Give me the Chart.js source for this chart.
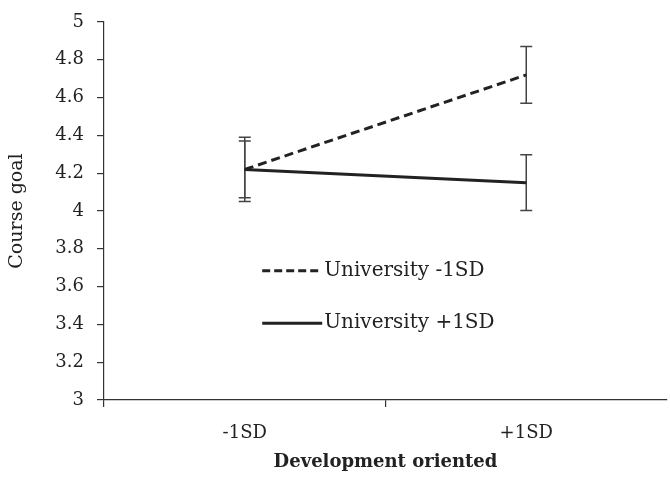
<!DOCTYPE html>
<html>
<head>
<meta charset="utf-8">
<script src="https://cdn.jsdelivr.net/npm/chart.js@4/dist/chart.umd.min.js"></script>
<style>
  html, body { margin: 0; padding: 0; background: #fff; }
  #wrap { width: 670px; height: 477px; position: relative; }
</style>
</head>
<body>
<div id="wrap"><canvas id="c" width="670" height="477"></canvas></div>
<script>
const categories = ['-1SD', '+1SD'];
const seriesNames = ['University -1SD', 'University +1SD'];
const univMinusMean = [4.22, 4.72];
const univMinusErr = [0.17, 0.15];
const univPlusMean = [4.22, 4.15];
const univPlusErr = [0.15, 0.147];
const yMin = 3, yMax = 5, yStep = 0.2;
const xTitle = 'Development oriented';
const yTitle = 'Course goal';

const FONT = "'DejaVu Serif', serif";
const INK = '#222';

const errorBars = {
  id: 'errorBars',
  beforeDatasetsDraw(chart) {
    const ctx = chart.ctx;
    const xs = chart.scales.x, ys = chart.scales.y;
    ctx.save();
    ctx.strokeStyle = '#444';
    ctx.lineWidth = 1.5;
    chart.data.datasets.forEach(ds => {
      ds.data.forEach((v, i) => {
        const e = ds.err[i];
        const x = xs.getPixelForValue(i);
        const t = ys.getPixelForValue(v + e), b = ys.getPixelForValue(v - e);
        const cap = 6;
        ctx.beginPath();
        ctx.moveTo(x, t); ctx.lineTo(x, b);
        ctx.moveTo(x - cap, t); ctx.lineTo(x + cap, t);
        ctx.moveTo(x - cap, b); ctx.lineTo(x + cap, b);
        ctx.stroke();
      });
    });
    ctx.restore();
  }
};

const inLegend = {
  id: 'inLegend',
  afterDraw(chart) {
    const ctx = chart.ctx, a = chart.chartArea;
    const w = a.right - a.left, h = a.bottom - a.top;
    const x0 = a.left + 0.281 * w;
    const ys = [a.top + 0.658 * h, a.top + 0.797 * h];
    ctx.save();
    ctx.font = '20px ' + FONT;
    ctx.fillStyle = INK;
    ctx.textBaseline = 'middle';
    chart.data.datasets.forEach((ds, i) => {
      ctx.strokeStyle = INK;
      ctx.lineWidth = 3;
      ctx.setLineDash(i === 0 ? [8, 4] : []);
      ctx.beginPath();
      ctx.moveTo(x0, ys[i]); ctx.lineTo(x0 + 60, ys[i]);
      ctx.stroke();
      ctx.setLineDash([]);
      ctx.fillText(ds.label, x0 + 62, ys[i]);
    });
    ctx.restore();
  }
};

new Chart(document.getElementById('c'), {
  type: 'line',
  data: {
    labels: categories,
    datasets: [
      { label: seriesNames[0], data: univMinusMean, err: univMinusErr,
        borderColor: INK, borderWidth: 3, borderDash: [9, 5], pointRadius: 0, fill: false, tension: 0 },
      { label: seriesNames[1], data: univPlusMean, err: univPlusErr,
        borderColor: INK, borderWidth: 3, pointRadius: 0, fill: false, tension: 0 }
    ]
  },
  options: {
    responsive: false,
    animation: false,
    devicePixelRatio: 1,
    layout: { padding: { top: 0, right: 3, left: 0, bottom: 0 } },
    plugins: { legend: { display: false }, tooltip: { enabled: false } },
    scales: {
      x: {
        offset: true,
        grid: { offset: true, drawOnChartArea: false, drawTicks: true, tickLength: 7,
                tickColor: c => c.type === 'tick' ? '#333' : 'rgba(0,0,0,0)', lineWidth: 1.2 },
        border: { color: '#333', width: 1.2 },
        ticks: { color: INK, font: { family: FONT, size: 18 }, padding: 16 },
        title: { display: true, text: xTitle, color: INK, font: { family: FONT, size: 18, weight: 'bold' }, padding: { top: 9 } },
        afterFit(s) { s.height = 77; }
      },
      y: {
        min: yMin, max: yMax,
        grid: { drawOnChartArea: false, drawTicks: true, tickLength: 7, tickColor: '#333', lineWidth: 1.2 },
        border: { color: '#333', width: 1.2 },
        ticks: { stepSize: yStep, color: INK, font: { family: FONT, size: 18, lineHeight: 1.0 }, padding: 13,
                 callback: v => String(Number(v.toFixed(1))) },
        title: { display: true, text: yTitle, color: INK, font: { family: FONT, size: 19 }, padding: { top: 6, bottom: 4 } },
        afterFit(s) { s.width = 104; }
      }
    }
  },
  plugins: [errorBars, inLegend]
});
</script>
</body>
</html>
